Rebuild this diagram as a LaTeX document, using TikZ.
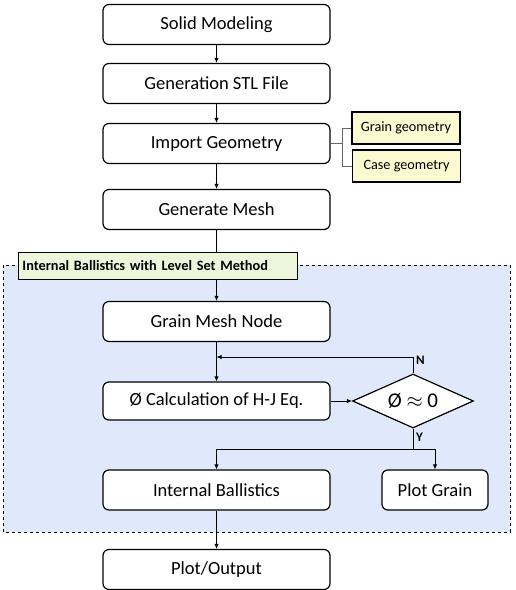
\documentclass[tikz,border=0pt]{standalone}
\usepackage{fontspec}
\setmainfont{Carlito}
\usetikzlibrary{arrows.meta,shapes.geometric}
\definecolor{regionfill}{HTML}{DFE9FB}
\definecolor{titlefill}{HTML}{EBF6DA}
\definecolor{smallfill}{HTML}{FCFAD0}
\tikzset{
  mainbox/.style={draw, line width=1.2pt, rounded corners=6pt, fill=white, minimum width=227pt, minimum height=40pt, inner sep=0pt, font=\fontsize{18.5}{20}\selectfont},
  smallbox/.style={draw, line width=1.2pt, fill=smallfill, minimum width=108pt, minimum height=32pt, inner sep=0pt, font=\fontsize{14.2}{16}\selectfont},
  arr/.style={-{Latex[length=5pt,width=4.5pt]}, line width=0.9pt},
  ln/.style={line width=0.9pt},
  lab/.style={font=\bfseries\fontsize{13}{14}\selectfont, anchor=west, inner sep=1pt},
}
\begin{document}
\begin{tikzpicture}[x=1pt,y=-1pt]
\useasboundingbox (0,0) rectangle (515,590);
% region
\draw[dashed, line width=0.8pt, fill=regionfill] (3,265) rectangle (510,532);
% main boxes
\node[mainbox] (solid) at (216.5,24.5) {Solid Modeling};
\node[mainbox] (stl) at (216.5,83.5) {Generation STL File};
\node[mainbox] (import) at (216.5,143.5) {Import Geometry};
\node[mainbox] (mesh) at (216.5,209.5) {Generate Mesh};
\node[mainbox] (gmn) at (216.5,321.5) {Grain Mesh Node};
\node[mainbox, minimum height=38pt] (calc) at (216.5,401) {Ø Calculation of H-J Eq.};
\node[mainbox] (ib) at (216.5,490) {Internal Ballistics};
\node[mainbox, minimum width=106pt] (pg) at (435,490) {Plot Grain};
\node[mainbox] (out) at (216.5,569.5) {Plot/Output};
% small boxes
\node[smallbox] (grain) at (406,128) {Grain geometry};
\node[smallbox] (case) at (406.5,166) {Case geometry};
% diamond
\node[draw, diamond, line width=1.2pt, fill=white, minimum width=121pt, minimum height=54pt, inner sep=0pt, aspect=2.24, font=\fontsize{21}{22}\selectfont] (dia) at (413,401) {Ø $\approx$ 0};
% connectors top
\draw[arr] (solid) -- (stl);
\draw[arr] (stl) -- (import);
\draw[arr] (import) -- (mesh);
\coordinate (br) at (342,143.5);
\draw[ln, gray!80!black] (import.east) -- (br) (342,128) -- (342,166);
\draw[ln, gray!80!black] (342,128) -- (grain.west);
\draw[ln, gray!80!black] (342,166) -- (case.west);
\draw[arr] (mesh) -- (gmn);
% title box
\node[draw, line width=0.9pt, fill=titlefill, minimum width=279pt, minimum height=27pt, inner sep=0pt, text width=270pt, align=left, font=\bfseries\fontsize{14.3}{16}\selectfont] (title) at (157.5,265.5) {Internal Ballistics with Level Set Method};
% inner connectors
\draw[arr] (gmn) -- (calc);
\draw[arr] (calc) -- (dia);
\coordinate (nup) at (413,357);
\coordinate (nleft) at (216.5,357);
\draw[ln] (dia.north) -- (nup);
\draw[arr] (nup) -- (nleft);
\node[lab] (nlab) at (415,360) {N};
\coordinate (ydown) at (413,449);
\coordinate (yleft) at (216.5,449);
\coordinate (yright) at (435,449);
\draw[ln] (dia.south) -- (ydown);
\node[lab] (ylab) at (415,437) {Y};
\draw[ln] (yleft) -- (yright);
\draw[arr] (yleft) -- (ib);
\draw[arr] (yright) -- (pg);
\draw[arr] (ib) -- (out);
\end{tikzpicture}
\end{document}
